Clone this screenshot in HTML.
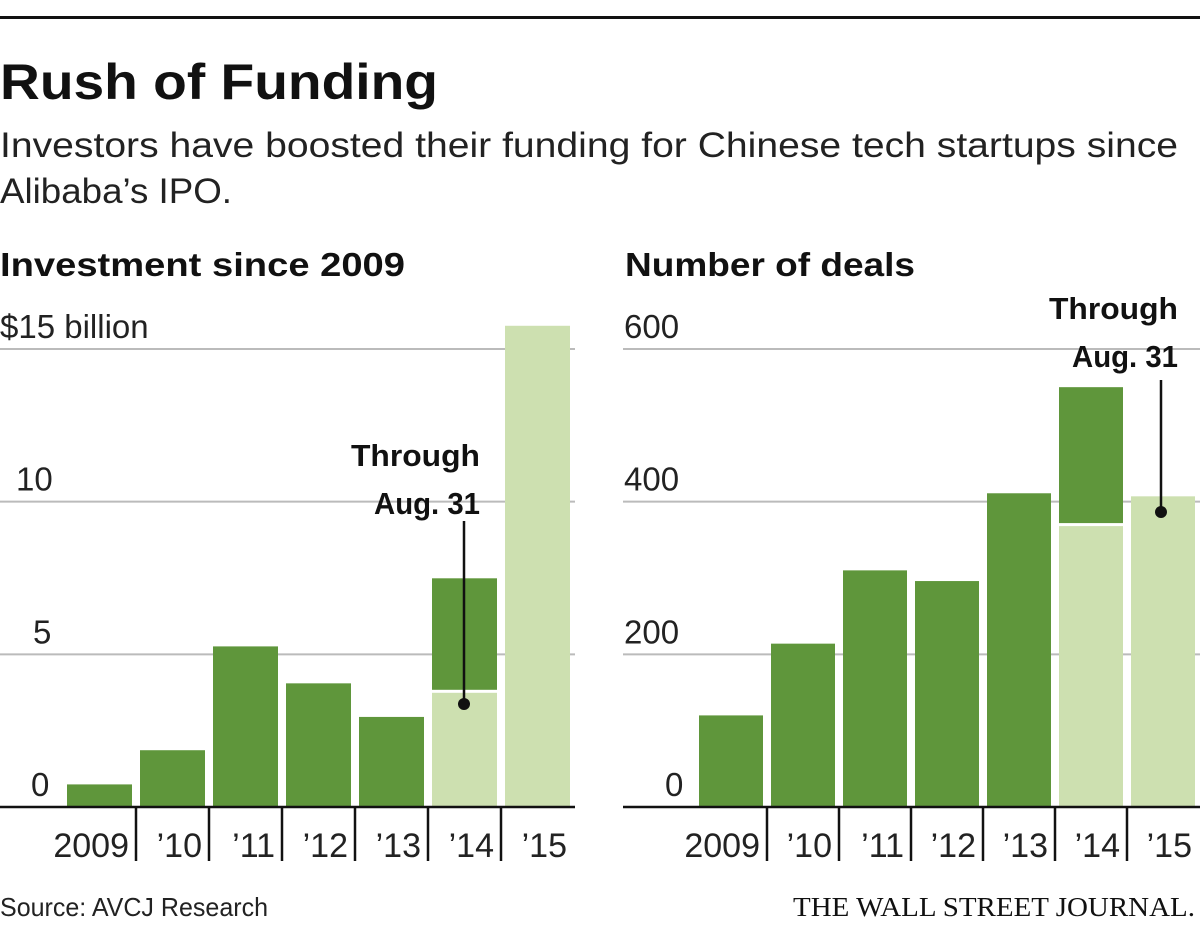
<!DOCTYPE html>
<html><head><meta charset="utf-8"><style>
html,body{margin:0;padding:0;background:#fff;}
svg{display:block;font-family:"Liberation Sans",sans-serif;}
</style></head><body>
<svg id="c" width="1200" height="933" viewBox="0 0 1200 933">
<rect x="0" y="16" width="1200" height="3" fill="#111"/>
<text x="0" y="99" font-size="50" font-weight="bold" fill="#111" textLength="438" lengthAdjust="spacingAndGlyphs">Rush of Funding</text>
<text x="0" y="157" font-size="35" fill="#222" textLength="1178" lengthAdjust="spacingAndGlyphs">Investors have boosted their funding for Chinese tech startups since</text>
<text x="0" y="203" font-size="35" fill="#222" textLength="232" lengthAdjust="spacingAndGlyphs">Alibaba’s IPO.</text>
<text x="0" y="276" font-size="33" font-weight="bold" fill="#111" textLength="405" lengthAdjust="spacingAndGlyphs">Investment since 2009</text>
<text x="625" y="276" font-size="33" font-weight="bold" fill="#111" textLength="290" lengthAdjust="spacingAndGlyphs">Number of deals</text>
<text x="0" y="916" font-size="26" fill="#222" textLength="268" lengthAdjust="spacingAndGlyphs">Source: AVCJ Research</text>
<text x="1195" y="916" font-size="27" text-anchor="end" font-family="Liberation Serif,serif" fill="#111" textLength="402" lengthAdjust="spacingAndGlyphs">THE WALL STREET JOURNAL.</text>
<g id="left"></g>
<g id="right"></g>
</svg>
<script>
const categories = ["2009","’10","’11","’12","’13","’14","’15"];
const investFull = [0.74,1.86,5.26,4.05,2.95,7.49,15.76];
const investPartial = [0,0,0,0,0,3.74,15.76];
const investTicks = [0,5,10,15];
const investTickLabels = ["0","5","10","$15 billion"];
const dealsFull = [120,214,310,296,411,550,407];
const dealsPartial = [0,0,0,0,0,368,407];
const dealsTicks = [0,200,400,600];
const dealsTickLabels = ["0","200","400","600"];

const NS="http://www.w3.org/2000/svg";
function mk(parent,tag,attrs){const e=document.createElementNS(NS,tag);for(const k in attrs)e.setAttribute(k,attrs[k]);parent.appendChild(e);return e;}
const DARK="#5f963b", LIGHT="#cde0b0";

function drawPanel(g,cfg){
  const y=v=>cfg.base-(v/cfg.max)*(cfg.base-cfg.top);
  const x=i=>cfg.x0+i*cfg.step;
  cfg.ticks.forEach((t,i)=>{
    if(t>0){
      const l=mk(g,'line',{x1:cfg.gx0,x2:cfg.gx1,y1:y(t),y2:y(t),stroke:'#bbb','stroke-width':2});
      
      
    }
    const tx=mk(g,'text',{x:cfg.labelX[i],y:y(t)-11,'font-size':33,fill:'#222'});
    tx.textContent=cfg.tickLabels[i];
    
    
  });
  categories.forEach((c,i)=>{
    const full=cfg.full[i], part=cfg.part[i];
    if(part>0 && part<full){
      const b1=mk(g,'rect',{x:x(i),y:y(full),width:cfg.bw,height:y(part)-y(full)-3,fill:DARK});
      
      
      const b2=mk(g,'rect',{x:x(i),y:y(part),width:cfg.bw,height:cfg.base-y(part),fill:LIGHT});
      
      
    } else {
      const b=mk(g,'rect',{x:x(i),y:y(full),width:cfg.bw,height:cfg.base-y(full),fill:part>0?LIGHT:DARK});
      
      
    }
    if(i>0){
      const s=mk(g,'line',{x1:x(i)-4,x2:x(i)-4,y1:cfg.base,y2:cfg.base+54,stroke:'#111','stroke-width':2.5});
      
      
    }
    const t=mk(g,'text',{x:x(i)+cfg.bw-3,y:cfg.base+50,'font-size':34,fill:'#222','text-anchor':'end'});
    t.textContent=c;
    
    
  });
  const ax=mk(g,'line',{x1:cfg.gx0,x2:cfg.axEnd,y1:cfg.base,y2:cfg.base,stroke:'#111','stroke-width':2.5});
  
  
  const a=cfg.ann;
  const t1=mk(g,'text',{x:a.tx,y:a.ty,'font-size':31,'font-weight':'bold',fill:'#111','text-anchor':'end',textLength:129,lengthAdjust:'spacingAndGlyphs'});
  t1.textContent='Through';
  
  
  const t2=mk(g,'text',{x:a.tx,y:a.ty+48,'font-size':31,'font-weight':'bold',fill:'#111','text-anchor':'end',textLength:106,lengthAdjust:'spacingAndGlyphs'});
  t2.textContent='Aug. 31';
  
  
  const ln=mk(g,'line',{x1:a.lx,x2:a.lx,y1:a.ly1,y2:a.ly2,stroke:'#111','stroke-width':2.5});
  
  
  const d=mk(g,'circle',{cx:a.lx,cy:a.ly2,r:6,fill:'#111'});
  
  
}
drawPanel(document.getElementById('left'),{base:807,top:349,max:15,x0:67,step:73,bw:65,gx0:0,gx1:575,axEnd:575,
  ticks:investTicks,tickLabels:investTickLabels,labelX:[31,33,16,0],full:investFull,part:investPartial,
  ann:{tx:480,ty:466,lx:464,ly1:521,ly2:704}});
drawPanel(document.getElementById('right'),{base:807,top:349,max:600,x0:699,step:72,bw:64,gx0:623,gx1:1200,axEnd:1200,
  ticks:dealsTicks,tickLabels:dealsTickLabels,labelX:[665,624,624,624],full:dealsFull,part:dealsPartial,
  ann:{tx:1178,ty:319,lx:1161,ly1:380,ly2:512}});
</script>
</body></html>
